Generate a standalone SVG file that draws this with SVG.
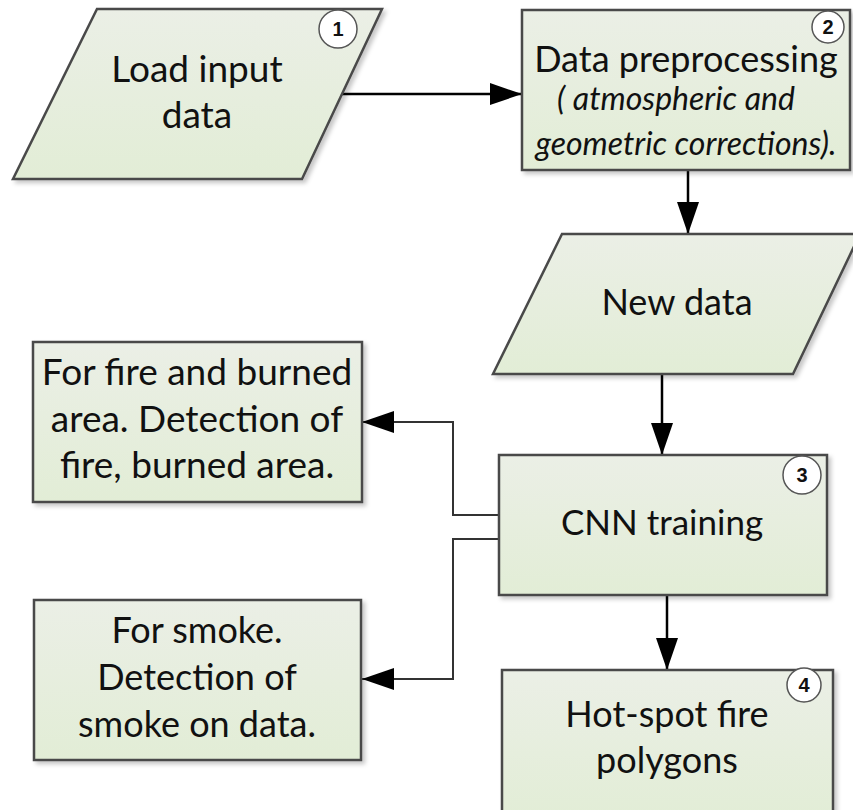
<svg xmlns="http://www.w3.org/2000/svg" width="853" height="810" viewBox="0 0 853 810">
<defs>
<linearGradient id="g" x1="0" y1="0" x2="0" y2="1">
<stop offset="0" stop-color="#ebefe6"/>
<stop offset="1" stop-color="#e2edd6"/>
</linearGradient>
<filter id="sh" x="-10%" y="-10%" width="130%" height="130%">
<feDropShadow dx="3" dy="3" stdDeviation="2" flood-color="#000" flood-opacity="0.22"/>
</filter>
<marker id="ah" markerWidth="32" markerHeight="22" refX="32" refY="11" orient="auto" markerUnits="userSpaceOnUse">
<path d="M0,0 L32,11 L0,22 Z" fill="#000"/>
</marker>
</defs>
<style>
.box{fill:url(#g);stroke:#4a4a4a;stroke-width:2.5;filter:url(#sh)}
.t{font-family:"Lato","Liberation Sans",sans-serif;font-size:36px;fill:#111;text-anchor:middle}
.it{font-family:"Lato","Liberation Sans",sans-serif;font-size:32px;font-style:italic;fill:#111;text-anchor:middle}
.num{fill:#fff;stroke:#555;stroke-width:1.5}
.nt{font-family:"Liberation Sans",sans-serif;font-size:20px;font-weight:bold;fill:#111;text-anchor:middle}
.c{fill:none;stroke:#000;stroke-width:2.5}
.c2{fill:none;stroke:#333;stroke-width:2}
</style>
<g id="connectors">
<line class="c" x1="341" y1="94" x2="522" y2="94" marker-end="url(#ah)"/>
<line class="c" x1="688" y1="171" x2="688" y2="234" marker-end="url(#ah)"/>
<line class="c" x1="662" y1="375" x2="662" y2="455" marker-end="url(#ah)"/>
<line class="c" x1="667" y1="596" x2="667" y2="670" marker-end="url(#ah)"/>
<polyline class="c2" points="499,515 453,515 453,422 362,422" marker-end="url(#ah)"/>
<polyline class="c2" points="499,539 453,539 453,679 362,679" marker-end="url(#ah)"/>
</g>
<g id="node1">
<polygon class="box" points="97,9 382,9 302,179 13,179"/>
<text class="t" x="197" y="82" style="font-size:37px">Load input</text>
<text class="t" x="197" y="128" style="font-size:37px">data</text>
<circle class="num" cx="338" cy="29" r="19"/>
<text class="nt" x="338" y="36">1</text>
</g>
<g id="node2">
<rect class="box" x="522" y="10" width="328" height="160"/>
<text class="t" x="686" y="72">Data preprocessing</text>
<text class="it" x="676" y="110">( atmospheric and</text>
<text class="it" x="686" y="155">geometric corrections).</text>
<circle class="num" cx="828" cy="27" r="16"/>
<text class="nt" x="828" y="34">2</text>
</g>
<g id="node_newdata">
<polygon class="box" points="562,234 860,234 793,374 493,374"/>
<text class="t" x="677" y="315">New data</text>
</g>
<g id="node3">
<rect class="box" x="499" y="455" width="328" height="140"/>
<text class="t" x="662" y="535" style="font-size:35px">CNN training</text>
<circle class="num" cx="802" cy="475" r="19"/>
<text class="nt" x="802" y="482">3</text>
</g>
<g id="node_fire">
<rect class="box" x="33" y="342" width="329" height="160"/>
<text class="t" x="197" y="385" style="font-size:37px">For fire and burned</text>
<text class="t" x="197" y="432" style="font-size:37px">area. Detection of</text>
<text class="t" x="197" y="478" style="font-size:37px">fire, burned area.</text>
</g>
<g id="node_smoke">
<rect class="box" x="34" y="600" width="327" height="160"/>
<text class="t" x="197" y="643">For smoke.</text>
<text class="t" x="197" y="690">Detection of</text>
<text class="t" x="197" y="737">smoke on data.</text>
</g>
<g id="node4">
<rect class="box" x="502" y="670" width="331" height="150"/>
<text class="t" x="667" y="727">Hot-spot fire</text>
<text class="t" x="667" y="773">polygons</text>
<circle class="num" cx="804" cy="685" r="17"/>
<text class="nt" x="804" y="692">4</text>
</g>
</svg>
